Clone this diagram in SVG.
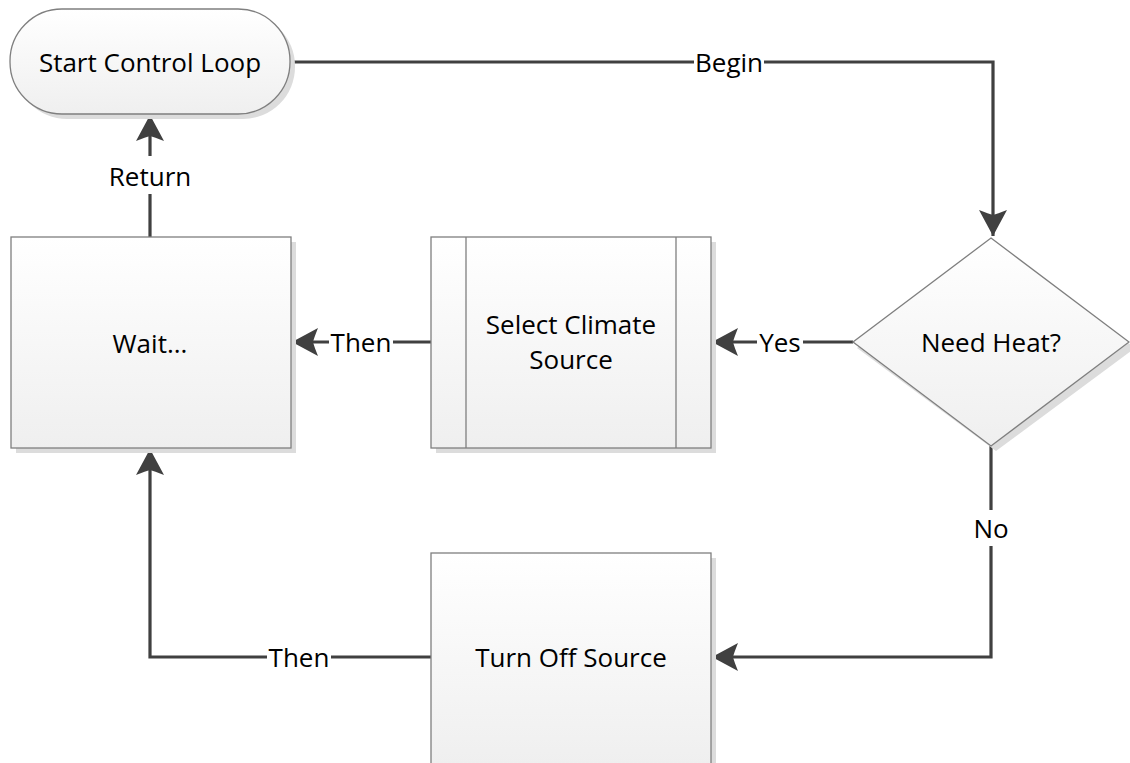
<svg xmlns="http://www.w3.org/2000/svg" width="1130" height="763" viewBox="0 0 1130 763">
<style>
.shape{fill:url(#g);stroke:#7f7f7f;stroke-width:1.3}
.shadow{fill:#dcdcdc}
.t{font-family:"Open Sans","Noto Sans",sans-serif;font-size:26px;fill:#000;text-anchor:middle;dominant-baseline:central}
.c{fill:none;stroke:#404040;stroke-width:3.2}
.lb{fill:#fff}
</style>
<defs>
<linearGradient id="g" x1="0" y1="0" x2="0" y2="1">
<stop offset="0" stop-color="#ffffff"/>
<stop offset="1" stop-color="#efefef"/>
</linearGradient>
<marker id="a" markerUnits="userSpaceOnUse" viewBox="-28 -15 30 30" refX="0" refY="0" markerWidth="30" markerHeight="30" orient="auto">
<path d="M0,0 L-26,-14 Q-22,-4 -21,0 Q-22,4 -26,14 Z" fill="#404040"/>
</marker>
</defs>
<g id="connectors">
<path class="c" d="M290,62 H993 V236" marker-end="url(#a)"/>
<path class="c" d="M853,342 H712" marker-end="url(#a)"/>
<path class="c" d="M431,342 H292" marker-end="url(#a)"/>
<path class="c" d="M150,237 V115" marker-end="url(#a)"/>
<path class="c" d="M991,446 V657 H712" marker-end="url(#a)"/>
<path class="c" d="M431,657 H150 V449" marker-end="url(#a)"/>
<rect class="lb" x="694" y="48" width="70" height="28"/>
<text class="t" x="729" y="62">Begin</text>
<rect class="lb" x="757" y="328" width="46" height="28"/>
<text class="t" x="780" y="342">Yes</text>
<rect class="lb" x="329" y="328" width="64" height="28"/>
<text class="t" x="361" y="342">Then</text>
<rect class="lb" x="104" y="156" width="92" height="38"/>
<text class="t" x="150" y="176">Return</text>
<rect class="lb" x="970" y="510" width="42" height="36"/>
<text class="t" x="991" y="528">No</text>
<rect class="lb" x="267" y="643" width="64" height="28"/>
<text class="t" x="299" y="657">Then</text>
</g>
<g id="start">
<rect class="shadow" x="15" y="14" width="280" height="105" rx="52" ry="52"/>
<rect class="shape" x="10" y="9" width="280" height="105" rx="52" ry="52"/>
<text class="t" x="150" y="62">Start Control Loop</text>
</g>
<g id="decision">
<polygon class="shadow" points="996,243 1135,348 996,451 857,348"/>
<polygon class="shape" points="991,238 1129,342 991,446 853,342"/>
<text class="t" x="991" y="342">Need Heat?</text>
</g>
<g id="select">
<rect class="shadow" x="436" y="242" width="280" height="211"/>
<rect class="shape" x="431" y="237" width="280" height="211"/>
<line x1="466" y1="237" x2="466" y2="448" stroke="#7f7f7f" stroke-width="1.3"/>
<line x1="676" y1="237" x2="676" y2="448" stroke="#7f7f7f" stroke-width="1.3"/>
<text class="t" x="571" y="324">Select Climate</text>
<text class="t" x="571" y="359">Source</text>
</g>
<g id="wait">
<rect class="shadow" x="16" y="242" width="280" height="211"/>
<rect class="shape" x="11" y="237" width="280" height="211"/>
<text class="t" x="150" y="343">Wait...</text>
</g>
<g id="turnoff">
<rect class="shadow" x="436" y="558" width="280" height="211"/>
<rect class="shape" x="431" y="553" width="280" height="211"/>
<text class="t" x="571" y="657">Turn Off Source</text>
</g>
</svg>
